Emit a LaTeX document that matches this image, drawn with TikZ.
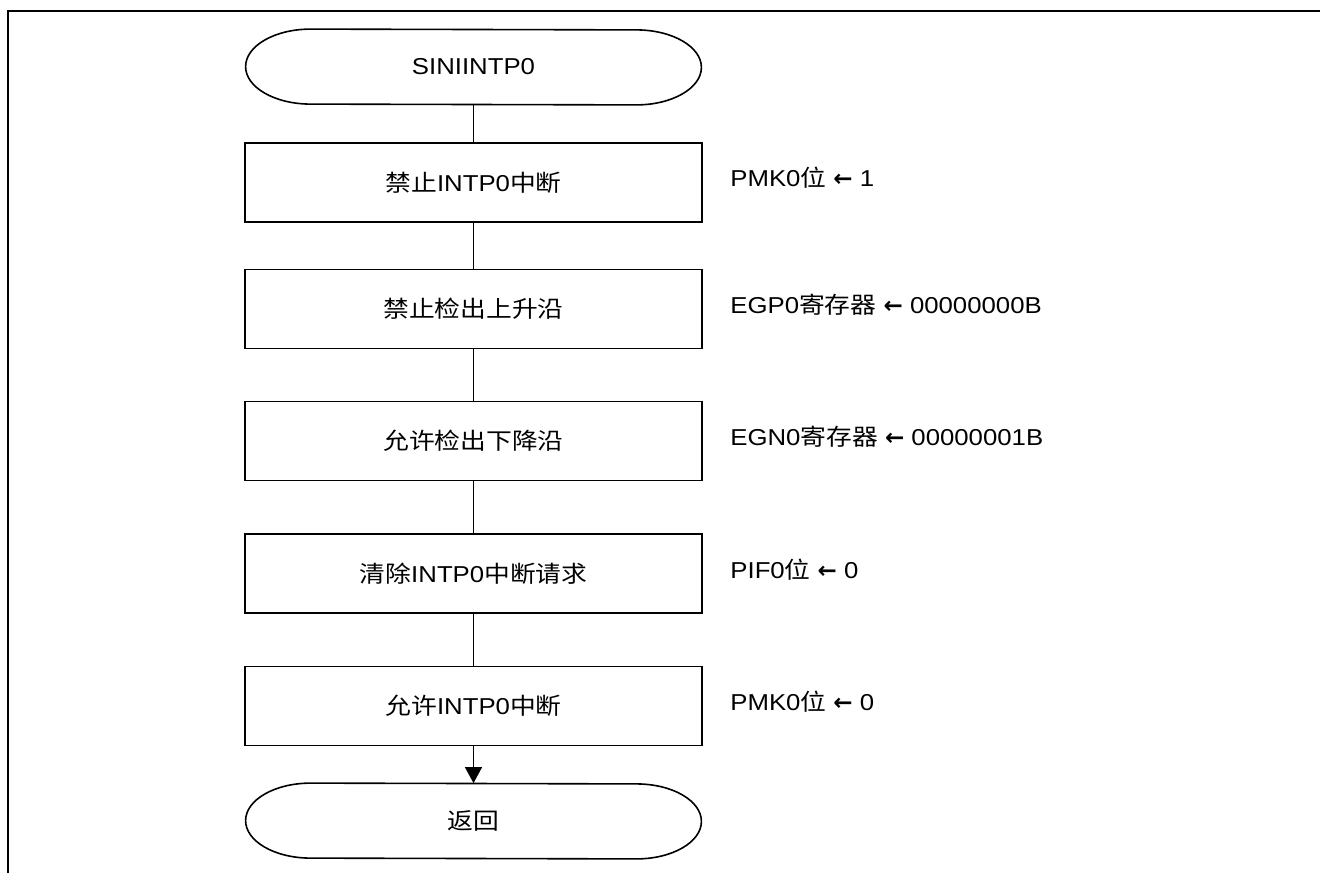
\documentclass[tikz,border=0pt]{standalone}
\usepackage{fontspec}
\setmainfont{Liberation Sans}[FakeStretch=1.12]
\newfontfamily\cjk{Noto Sans CJK SC}[FakeStretch=1.12]
\newfontfamily\sym{DejaVu Sans Bold}
\usetikzlibrary{arrows.meta}
\begin{document}
\begin{tikzpicture}[x=0.5pt,y=-0.5pt,
  txt/.style={font=\fontsize{11.5pt}{14pt}\selectfont},
  stepbox/.style={draw, line width=0.65pt, minimum width=228.5pt, minimum height=39.5pt, inner sep=0pt, txt},
  term/.style={minimum width=227.5pt, minimum height=37.5pt, inner sep=0pt, txt},
  note/.style={anchor=west, inner sep=0pt, txt},
  conn/.style={line width=0.65pt},
  termline/.style={line width=0.8pt}]
\useasboundingbox (0,0) rectangle (1320,873);
\draw[line width=1.3pt] (1320,11) -- (8,11) -- (8,873);

\node[term] (s) at (473.5,67) {SINIINTP0};
\node[stepbox] (b1) at (473.5,182.5) {{\cjk 禁止}INTP0{\cjk 中断}};
\node[stepbox] (b2) at (473.5,309) {\cjk 禁止检出上升沿};
\node[stepbox] (b3) at (473.5,441) {\cjk 允许检出下降沿};
\node[stepbox] (b4) at (473.5,573.5) {{\cjk 清除}INTP0{\cjk 中断请求}};
\node[stepbox] (b5) at (473.5,706) {{\cjk 允许}INTP0{\cjk 中断}};
\node[term] (e) at (473.5,821) {\cjk 返回};

\foreach \n in {s,e}{
  \draw[termline] ([xshift=32.5pt]\n.north west)
    arc[start angle=90,end angle=270,x radius=32.5pt,y radius=18.75pt]
    -- ([xshift=-32.5pt]\n.south east)
    arc[start angle=-90,end angle=90,x radius=32.5pt,y radius=18.75pt]
    -- cycle;
}

\node[note] (n1) at (730,178) {PMK0{\cjk 位} {\sym ←} 1};
\node[note] (n2) at (730,305) {EGP0{\cjk 寄存器} {\sym ←} 00000000B};
\node[note] (n3) at (730,437) {EGN0{\cjk 寄存器} {\sym ←} 00000001B};
\node[note] (n4) at (730,570) {PIF0{\cjk 位} {\sym ←} 0};
\node[note] (n5) at (730,702) {PMK0{\cjk 位} {\sym ←} 0};

\draw[conn] (s) -- (b1);
\draw[conn] (b1) -- (b2);
\draw[conn] (b2) -- (b3);
\draw[conn] (b3) -- (b4);
\draw[conn] (b4) -- (b5);
\draw[conn,-{Triangle[length=8pt,width=8.5pt]}] (b5) -- (e);
\end{tikzpicture}
\end{document}
